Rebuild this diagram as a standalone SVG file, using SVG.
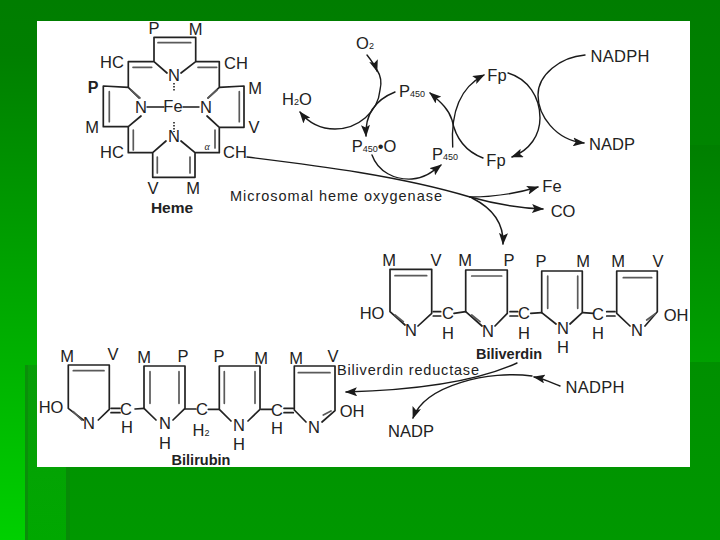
<svg xmlns="http://www.w3.org/2000/svg" width="720" height="540" viewBox="0 0 720 540">
<style>
text{font-family:"Liberation Sans",Arial,sans-serif;fill:#222;font-size:16.5px;text-anchor:middle;dominant-baseline:central}
.b{font-weight:bold;font-size:14.500px}
.s{font-size:10px}
.l{font-size:14.500px}
.r{fill:none;stroke:#222;stroke-width:1.700;stroke-linejoin:round;stroke-linecap:round}
.i{fill:none;stroke:#5a5a5a;stroke-width:1.700;stroke-linecap:round}
.c{fill:none;stroke:#1a1a1a;stroke-width:1.400;stroke-linecap:round}
.a{marker-end:url(#ah)}
</style>
<defs>
<linearGradient id="gm" x1="0" y1="0" x2="0" y2="1"><stop offset="0" stop-color="#007d00"/><stop offset="1" stop-color="#009800"/></linearGradient>
<linearGradient id="gl" x1="0" y1="0" x2="0" y2="1"><stop offset="0" stop-color="#007d00"/><stop offset="0.1" stop-color="#007f00"/><stop offset="1" stop-color="#00d000"/></linearGradient>
<linearGradient id="gs" x1="0" y1="0" x2="0" y2="1"><stop offset="0" stop-color="#089c08"/><stop offset="1" stop-color="#00a800"/></linearGradient>
<linearGradient id="gr" x1="0" y1="0" x2="0" y2="1"><stop offset="0" stop-color="#007f00"/><stop offset="1" stop-color="#00a000"/></linearGradient>
<marker id="ah" viewBox="0 0 12 9" refX="11" refY="4.500" markerWidth="12" markerHeight="9" markerUnits="userSpaceOnUse" orient="auto"><path d="M0 0L12 4.500L0 9L2.500 4.500Z" fill="#1a1a1a"/></marker>
</defs>
<g id="background">
<rect width="720" height="540" fill="url(#gm)"/>
<rect width="37" height="540" fill="url(#gl)"/>
<rect x="25" y="365" width="41" height="175" fill="url(#gs)"/>
<rect x="25" y="365" width="3" height="175" fill="#0a8f0a"/>
<rect x="66" y="467" width="4" height="73" fill="#078b07"/>
<rect x="690" y="145" width="30" height="217" fill="url(#gr)"/>
<rect x="37" y="21" width="653" height="446" fill="#fff"/>
</g>
<g id="connectors">
<path class="c" d="M247 157C320 166 400 176 470 197" stroke-width="1.800"/>
<path class="c a" d="M470 197C495 197 515 194 538 187"/>
<path class="c a" d="M470 197C495 204 518 208 543 209"/>
<path class="c a" d="M472 198C492 208 504 222 503 244"/>
<path class="c a" d="M367 55C371 60 375 65 377 71"/>
<path class="c a" d="M377 70C381 76 382 82 380 90C378 112 358 129 335 129C320 129 308 122 300 112"/>
<path class="c a" d="M395 92C375 100 365 115 366 136"/>
<path class="c a" d="M372 155C378 172 395 180 412 179C425 178 432 172 441 165"/>
<path class="c a" d="M452.700 147C451 120 455 90 484 75"/>
<path class="c a" d="M483 158C462 150 455 135 452 120C449 110 442 103 430 93"/>
<path class="c a" d="M508 73C528 79 540 97 540 118C540 135 530 150 512 157"/>
<path class="c a" d="M585 55C560 57 538 75 538 95C538 115 555 140 584 143"/>
<path class="c a" d="M517 363C480 380 420 390 346 392"/>
<path class="c a" d="M560 386C552 383 545 379 534 377"/>
<path class="c a" d="M532 376C490 370 425 385 413 418"/>
</g>
<g id="heme">
<path class="r" d="M154 37.300H195.700V61.700L181 73M167 73L154 61.700V37.300M154 61.700H128.300V87.300L139 98M128.300 87.300L103.300 86V126.700H128.300L141 116M195.700 61.700H219.300V87.300L208 98M219.300 87.300L244 86V127.300H219.300L207 116M128.300 126.700V152.700H152.700L166 141M152.700 152.700V177.300H195V152.700L181 141M195 152.700H219.300V127.300"/>
<path class="i" d="M158 42.700H190.700M133 67.300H151.700M198 67.300H216.700M109.300 91.700V121.700M239.300 91.700V121.700M133.300 130V150M215 130V148M157.300 157V173M190 157V173M131 90L140 98M217 90L208 98"/>
<path class="c" d="M147 107H164M183 107H199"/>
<path d="M174 83V92M174 122V132" stroke="#222" stroke-width="1.600" stroke-dasharray="1.500 1.500" fill="none"/>
<text x="154" y="28">P</text><text x="195.500" y="29">M</text>
<text x="112" y="62">HC</text>
<text x="236" y="63">CH</text>
<text x="93" y="87" class="b" style="font-size:16px">P</text><text x="255" y="88">M</text>
<text x="92" y="127">M</text><text x="254" y="127">V</text>
<text x="112" y="152">HC</text><text x="235" y="152">CH</text>
<text x="153" y="188">V</text><text x="193" y="188">M</text>
<text x="174" y="75">N</text><text x="141" y="107">N</text><text x="173" y="106">Fe</text><text x="206" y="107">N</text><text x="174" y="136">N</text>
<text x="207" y="146" class="s" style="font-family:'Liberation Serif',serif;font-style:italic">α</text>
<text x="172" y="207" class="b" style="font-size:15.500px">Heme</text>
</g>
<text x="336" y="196" class="l" textLength="212" lengthAdjust="spacing">Microsomal heme oxygenase</text>
<g id="cycle">
<text x="365" y="43">O<tspan font-size="9" dy="3">2</tspan></text>
<text x="297" y="99">H<tspan font-size="9" dy="3">2</tspan><tspan dy="-3">O</tspan></text>
<text x="412" y="91">P<tspan font-size="9" dy="3">450</tspan></text>
<text x="374" y="146">P<tspan font-size="9" dy="3">450</tspan><tspan dy="-3">•O</tspan></text>
<text x="445" y="154">P<tspan font-size="9" dy="3">450</tspan></text>
<text x="497" y="75">Fp</text>
<text x="496" y="160">Fp</text>
<text x="620" y="56" textLength="59">NADPH</text>
<text x="612" y="144" textLength="46">NADP</text>
<text x="552" y="186">Fe</text>
<text x="563" y="211">CO</text>
</g>
<g id="biliverdin">
<path class="r" d="M405 325L390 311.700V269.300H431.700V313.300L418 326M465.700 311.700V270H507.300V313.300L495 326M482 326L465.700 311.700M541.700 312.700V271H582.300V312.700L570 324M556 324L541.700 312.700M616.700 313.300V271H657.300V311.700L645 326M630 326L616.700 313.300"/>
<path class="r" d="M454 313.300L465.700 311.700M530.700 313.300L541.700 312.700M583 312.700L593.300 313.300M433.300 311.700H440.700M433.300 316H440.700M510 311.700H517.700M510 316H517.700M606.700 311.700H615M606.700 316H615"/>
<path class="i" d="M395 275.700H426.700M471.700 276H501.700M547.700 276V308.300M577.700 276V308.300M623.300 277.700H651.700M395 315L403.300 321.700M471.700 315L480 321.700M646.700 320L655 314"/>
<text x="389" y="260">M</text><text x="436" y="260">V</text><text x="465" y="260">M</text><text x="509" y="260">P</text><text x="541" y="261">P</text><text x="583" y="261">M</text><text x="618" y="261">M</text><text x="658" y="261">V</text>
<text x="372" y="313">HO</text><text x="676" y="315">OH</text>
<text x="411" y="330">N</text><text x="488" y="331">N</text><text x="563" y="328">N</text><text x="637" y="330">N</text>
<text x="448" y="313">C</text><text x="524" y="313">C</text><text x="598" y="314">C</text>
<text x="448" y="333">H</text><text x="524" y="333">H</text><text x="598" y="333">H</text><text x="563" y="347">H</text>
<text x="509" y="354" class="b">Biliverdin</text>
</g>
<text x="408" y="370" class="l" textLength="142" lengthAdjust="spacing">Biliverdin reductase</text>
<text x="595" y="387" textLength="59">NADPH</text>
<text x="411" y="431" textLength="46">NADP</text>
<g id="bilirubin">
<path class="r" d="M83.300 420L68.300 408.300V365H109.300V409.300L98.300 420M156 420L144 408.300V366H185V408.300L173 420M231 421L219.300 409.300V366H260V409.300L248 421M306 422L294.300 410V366H335V410.700L322 422"/>
<path class="r" d="M135 409L144 408.300M185 409H196M208.300 409.300H219.300M261 409.300H271.700M111 408.300H120M111 412.700H120M284 408.300H293.300M284 412.700H293.300"/>
<path class="i" d="M73.300 370.700H104M150 371.700V403.300M179 371.700V403.300M224.300 371.700V403.300M255 371.700V403.300M298.300 372.700H330M73.300 411.700L81.700 420M323.300 415L331 411"/>
<text x="67" y="356">M</text><text x="113" y="354">V</text><text x="144" y="357">M</text><text x="183" y="356">P</text><text x="219" y="356">P</text><text x="261" y="358">M</text><text x="296" y="358">M</text><text x="333" y="356">V</text>
<text x="51" y="407">HO</text><text x="352" y="411">OH</text>
<text x="89" y="423">N</text><text x="165" y="423">N</text><text x="239" y="425">N</text><text x="314" y="427">N</text>
<text x="126" y="409">C</text><text x="202" y="409">C</text><text x="277" y="410">C</text>
<text x="127" y="427">H</text><text x="201" y="430">H<tspan font-size="9" dy="3">2</tspan></text><text x="277" y="428">H</text><text x="165" y="443">H</text><text x="239" y="444">H</text>
<text x="201" y="460" class="b">Bilirubin</text>
</g>
</svg>
